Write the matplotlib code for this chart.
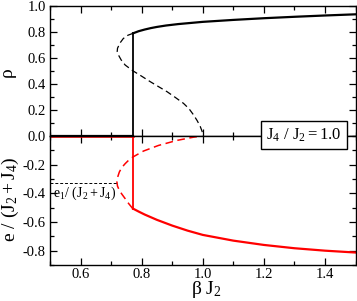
import matplotlib
matplotlib.use("Agg")
import matplotlib.pyplot as plt
from matplotlib.ticker import MultipleLocator, FixedLocator

plt.rcParams['font.family'] = ['Liberation Serif', 'DejaVu Serif']
plt.rcParams['mathtext.fontset'] = 'custom'
plt.rcParams['mathtext.rm'] = 'Liberation Serif'
plt.rcParams['mathtext.it'] = 'Liberation Serif'
plt.rcParams['mathtext.default'] = 'regular'
plt.rcParams['axes.unicode_minus'] = False

# ---- data ----
beta_c = 0.772  # first-order transition (vertical lines)

# rho: stable branches
rho_low_x = [0.5, beta_c]
rho_low = [0.0, 0.0]
rho_up_x = [0.772, 0.79, 0.81, 0.83, 0.85, 0.88, 0.92, 1.00, 1.10, 1.20, 1.30, 1.40, 1.50]
rho_up = [0.790, 0.806, 0.819, 0.830, 0.839, 0.850, 0.861, 0.878, 0.893, 0.906, 0.917, 0.927, 0.936]

# rho: metastable / unstable fold (dashed)
rho_fold_x = [0.772, 0.755, 0.740, 0.729, 0.721, 0.720, 0.724, 0.733, 0.746, 0.771, 0.80,
              0.828, 0.855, 0.883, 0.91, 0.937, 0.955, 0.970, 0.982, 0.992, 0.998, 1.0]
rho_fold = [0.79, 0.775, 0.75, 0.715, 0.675, 0.65, 0.623, 0.585, 0.546, 0.502, 0.46,
            0.418, 0.38, 0.341, 0.297, 0.251, 0.21, 0.162, 0.117, 0.072, 0.035, 0.0]

# energy: stable branches
e_low_x = [0.5, beta_c]
e_low = [0.0, 0.0]
e_up_x = [0.772, 0.79, 0.81, 0.85, 0.90, 0.95, 1.00, 1.10, 1.20, 1.30, 1.40, 1.50]
e_up = [-0.507, -0.527, -0.548, -0.585, -0.625, -0.66, -0.69, -0.73, -0.76, -0.783, -0.80, -0.813]

# energy: fold (dashed)
e_fold_x = [0.771, 0.757, 0.746, 0.735, 0.727, 0.721, 0.719, 0.721, 0.727, 0.735, 0.746,
            0.757, 0.771, 0.806, 0.855, 0.915, 0.970, 1.0]
e_fold = [-0.507, -0.47, -0.437, -0.405, -0.379, -0.35, -0.321, -0.29, -0.251, -0.22, -0.193,
          -0.17, -0.147, -0.105, -0.066, -0.031, -0.008, 0.0]

e1_value = -0.325
e1_xrange = [0.5, 0.718]

x_ticks = [0.6, 0.8, 1.0, 1.2, 1.4]
x_ticklabels = ['0.6', '0.8', '1.0', '1.2', '1.4']
rho_ticks = [0.0, 0.2, 0.4, 0.6, 0.8, 1.0]
rho_ticklabels = ['0.0', '0.2', '0.4', '0.6', '0.8', '1.0']
e_ticks = [-0.8, -0.6, -0.4, -0.2]
e_ticklabels = ['-0.8', '-0.6', '-0.4', '-0.2']

# ---- figure ----
W, H = 357, 301
fig = plt.figure(figsize=(W / 100, H / 100), dpi=100)
ax1 = fig.add_axes([50 / W, 1 - 136 / H, 305.5 / W, 130 / H])
ax2 = fig.add_axes([50 / W, 1 - 265 / H, 305.5 / W, 129 / H])

for ax in (ax1, ax2):
    ax.set_xlim(0.5, 1.5)
    ax.xaxis.set_major_locator(FixedLocator(x_ticks))
    ax.xaxis.set_minor_locator(MultipleLocator(0.1))
    ax.tick_params(which='both', direction='in', top=True, right=True,
                   labelsize=10.5, width=0.9, pad=3)
    ax.tick_params(which='major', length=5)
    ax.tick_params(which='minor', length=2.8)
    for s in ax.spines.values():
        s.set_linewidth(1.0)

ax1.set_ylim(0, 1)
ax1.set_yticks(rho_ticks)
ax1.set_yticklabels(rho_ticklabels)
ax1.yaxis.set_minor_locator(MultipleLocator(0.1))
ax1.tick_params(labelbottom=False)

ax2.set_ylim(-0.9, 0)
ax2.set_yticks(e_ticks)
ax2.set_yticklabels(e_ticklabels)
ax2.yaxis.set_minor_locator(MultipleLocator(0.1))
ax2.set_xticklabels(x_ticklabels)
ax2.tick_params(axis='x', pad=2)

# top panel
ax1.plot(rho_low_x, rho_low, color='black', lw=1.6)
ax1.plot(rho_up_x, rho_up, color='black', lw=1.6)
ax1.plot([beta_c, beta_c], [0, rho_up[0]], color='black', lw=1.3)
ax1.plot(rho_fold_x, rho_fold, color='black', lw=0.9, dashes=(5, 3))

# bottom panel
ax2.plot(e_low_x, e_low, color='red', lw=2.6)
ax2.plot(e_up_x, e_up, color='red', lw=1.6)
ax2.plot([beta_c, beta_c], [0, e_up[0]], color='red', lw=1.3)
ax2.plot(e_fold_x, e_fold, color='red', lw=1.1, dashes=(5, 3))
ax2.plot(e1_xrange, [e1_value, e1_value], color='black', lw=0.7, dashes=(3, 2))
ax2.text(0.511, -0.397, r'$e_1/\ (J_2+J_4)$', fontsize=10, ha='left', va='center')

# labels
fig.text(7 / W, 1 - 72 / H, 'ρ', rotation=90, ha='center', va='center', fontsize=14)
fig.text(10 / W, 1 - 199 / H, r'$e\ /\ (J_2+J_4)$', rotation=90, ha='center', va='center',
         fontsize=14)
fig.text(206 / W, 1 - 290 / H, r'β $J_2$', ha='center', va='center', fontsize=14)

fig.text(304 / W, 1 - 135 / H, r'$J_4\ /\ J_2 = 1.0$', ha='center', va='center', fontsize=12,
         bbox=dict(boxstyle='square,pad=0.3', facecolor='white', edgecolor='black', lw=1.0),
         zorder=10)

fig.savefig('out.png', dpi=100)
